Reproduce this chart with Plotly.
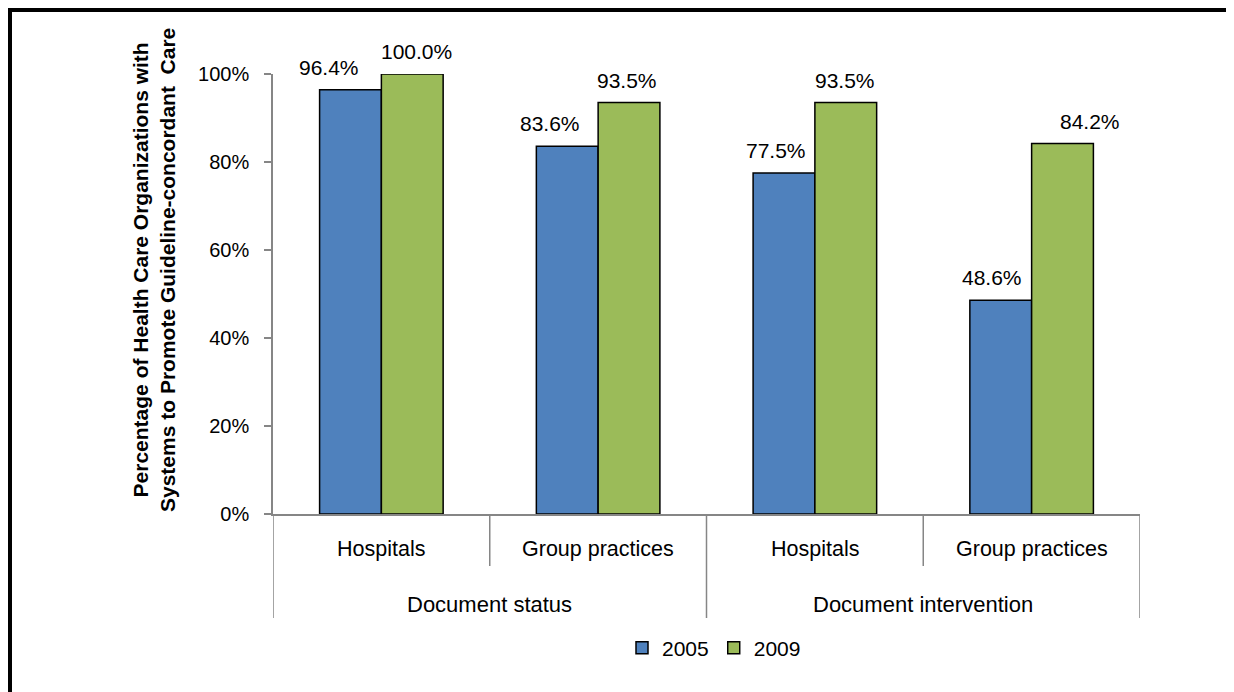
import plotly.graph_objects as go

inner_labels = ["Hospitals", "Group practices", "Hospitals", "Group practices"]
outer_labels = ["Document status", "Document intervention"]
years = ["2005", "2009"]
vals_2005 = [96.4, 83.6, 77.5, 48.6]
vals_2009 = [100.0, 93.5, 93.5, 84.2]
colors = ["#4F81BD", "#9BBB59"]
ytick_vals = [0, 20, 40, 60, 80, 100]
ytick_text = ["0%", "20%", "40%", "60%", "80%", "100%"]

# horizontal nudges (px) of the value labels, as placed in the original
label_xshift = [[-21, -17, -8, -9], [4, -2, -1, 27]]

OFF = 8  # page body margin
W, H = 1234 - OFF, 692 - OFF
L, T = 273 - OFF, 74 - OFF
R = W - (1140 - OFF)
B = H - (514 - OFF)
pw, ph = W - L - R, H - T - B

def px_x(p):
    return (p - OFF - L) / pw

def px_y(p):
    return (H - B - (p - OFF)) / ph

FONT = "Liberation Sans, Arial, sans-serif"
BARGAP = 0.43
xpos = list(range(len(inner_labels)))
bw = (1 - BARGAP) / len(years)

fig = go.Figure()
for name, vals, col in zip(years, [vals_2005, vals_2009], colors):
    fig.add_trace(go.Bar(
        x=xpos, y=vals, name=name,
        marker=dict(color=col, line=dict(color="black", width=1.5)),
    ))

annotations = []
for k, vals in enumerate([vals_2005, vals_2009]):
    off = (k - (len(years) - 1) / 2) * bw
    for i, v in enumerate(vals):
        annotations.append(dict(x=i + off, y=v, xref="x", yref="y", text=f"{v:.1f}%",
                                showarrow=False, yanchor="bottom", yshift=9,
                                xshift=label_xshift[k][i],
                                font=dict(size=21, color="black", family=FONT)))

shapes = []
for xv in [-0.5, 1.5, 3.5]:
    shapes.append(dict(type="line", xref="x", yref="paper", x0=xv, x1=xv,
                       y0=0, y1=px_y(618), line=dict(color="#868686", width=1.5)))
for xv in [0.5, 2.5]:
    shapes.append(dict(type="line", xref="x", yref="paper", x0=xv, x1=xv,
                       y0=0, y1=px_y(566), line=dict(color="#868686", width=1.5)))
shapes.append(dict(type="rect", xref="paper", yref="paper",
                   x0=px_x(10), x1=px_x(1260), y0=px_y(10), y1=px_y(720),
                   line=dict(color="black", width=4)))

for i, lab in enumerate(inner_labels):
    annotations.append(dict(x=i, y=px_y(549), xref="x", yref="paper", text=lab,
                            showarrow=False, font=dict(size=21.5, color="black", family=FONT),
                            xanchor="center", yanchor="middle"))
for j, lab in enumerate(outer_labels):
    annotations.append(dict(x=2 * j + 0.5, y=px_y(604), xref="x", yref="paper", text=lab,
                            showarrow=False, font=dict(size=22, color="black", family=FONT),
                            xanchor="center", yanchor="middle"))
annotations.append(dict(
    x=px_x(154), y=px_y(270), xref="paper", yref="paper",
    text="Percentage of Health Care Organizations with<br>Systems to Promote Guideline-concordant  Care",
    textangle=-90, showarrow=False, xanchor="center", yanchor="middle",
    font=dict(size=21, color="black", family=FONT, weight="bold")))

fig.update_layout(
    width=W, height=H,
    margin=dict(l=L, r=R, t=T, b=B),
    paper_bgcolor="white", plot_bgcolor="white",
    barmode="group", bargap=BARGAP, bargroupgap=0,
    font=dict(family=FONT, size=20, color="black"),
    xaxis=dict(range=[-0.5, 3.5], showticklabels=False, ticks="", showgrid=False,
               zeroline=False, showline=True, linecolor="#868686", linewidth=1.5),
    yaxis=dict(range=[0, 100], tickvals=ytick_vals, ticktext=ytick_text,
               ticks="outside", ticklen=7, tickcolor="#868686", tickwidth=1.5,
               showgrid=False, zeroline=False, showline=True, linecolor="#868686",
               linewidth=1.5, ticklabelstandoff=11,
               tickfont=dict(size=20, color="black", family=FONT)),
    legend=dict(orientation="h", x=px_x(714), xanchor="center", y=px_y(648), yanchor="middle",
                font=dict(size=21, color="black", family=FONT), itemwidth=30,
                traceorder="normal"),
    shapes=shapes, annotations=annotations,
    showlegend=True,
)

fig.write_html("out.html")
